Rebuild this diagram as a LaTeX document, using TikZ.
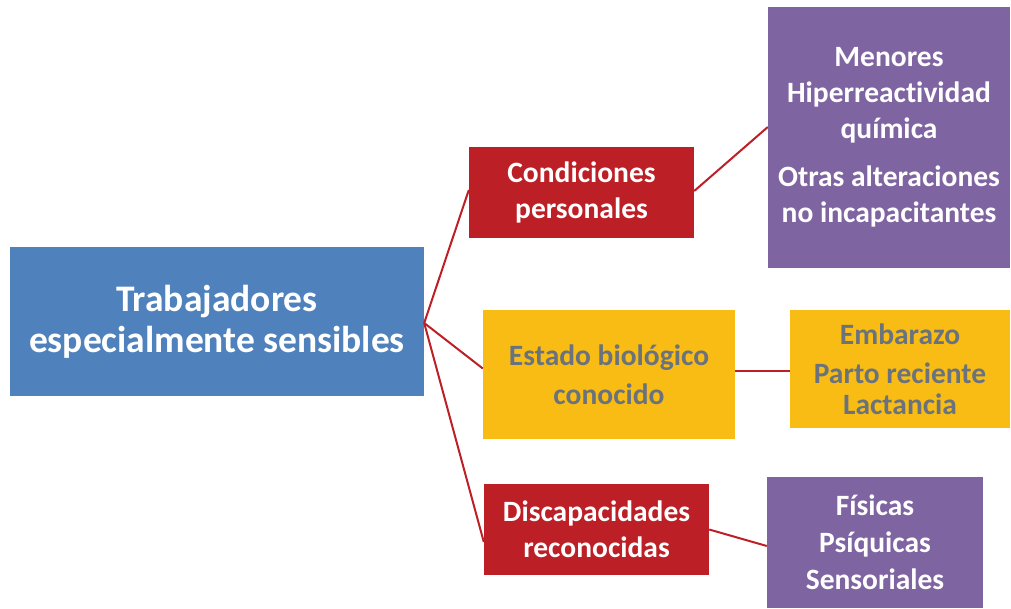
\documentclass[tikz,border=0pt]{standalone}
\usepackage{fontspec}
\setmainfont[Ligatures=NoCommon]{Carlito}
\definecolor{cblue}{HTML}{4F81BD}
\definecolor{cred}{HTML}{BC1F26}
\definecolor{cyellow}{HTML}{F8BC15}
\definecolor{cpurple}{HTML}{7F64A2}
\definecolor{cgray}{HTML}{6A737D}
\tikzset{
  box/.style={rectangle, inner sep=0pt, align=center, font=\bfseries\fontsize{29.5}{36}\selectfont},
  bluebox/.style={box, fill=cblue, text=white, font=\bfseries\fontsize{37.5}{41}\selectfont},
  redbox/.style={box, fill=cred, text=white},
  yellowbox/.style={box, fill=cyellow, text=cgray},
  purplebox/.style={box, fill=cpurple, text=white},
  link/.style={draw=cred, line width=2pt}
}
\begin{document}
\begin{tikzpicture}[x=1pt, y=-1pt]
\useasboundingbox (0,0) rectangle (1011,608);
\node[bluebox, minimum width=414pt, minimum height=149pt] (root) at (217,321.5) {Trabajadores\\especialmente sensibles};
\node[redbox, minimum width=225pt, minimum height=91pt] (cp) at (581.5,192.5) {Condiciones\\personales};
\node[yellowbox, minimum width=252pt, minimum height=129pt, font=\bfseries\fontsize{29.5}{39}\selectfont] (eb) at (609,374.5) {Estado biológico\\conocido};
\node[redbox, minimum width=225pt, minimum height=91pt] (dr) at (596.5,529.5) {Discapacidades\\reconocidas};
\node[purplebox, minimum width=242pt, minimum height=261pt] (p1) at (889,137.5) {Menores\\Hiperreactividad\\química\\[12pt]Otras alteraciones\\no incapacitantes};
\node[yellowbox, minimum width=220pt, minimum height=118pt] (y2) at (900,369) {Embarazo\\[3pt]Parto reciente\\[-5pt]Lactancia};
\node[purplebox, minimum width=216pt, minimum height=131pt, font=\bfseries\fontsize{29.5}{37}\selectfont] (p3) at (875,542.5) {Físicas\\Psíquicas\\Sensoriales};
\draw[link] ([yshift=-1.5pt]root.east) -- ([yshift=2.5pt]cp.west);
\draw[link] ([yshift=-1.5pt]root.east) -- ([yshift=6pt]eb.west);
\draw[link] ([yshift=-1.5pt]root.east) -- ([yshift=-12.5pt]dr.west);
\draw[link] ([yshift=1.5pt]cp.east) -- ([yshift=10.5pt]p1.west);
\draw[link] ([yshift=3.5pt]eb.east) -- ([yshift=-2pt]y2.west);
\draw[link] (dr.east) -- ([yshift=-3.5pt]p3.west);
\end{tikzpicture}
\end{document}
